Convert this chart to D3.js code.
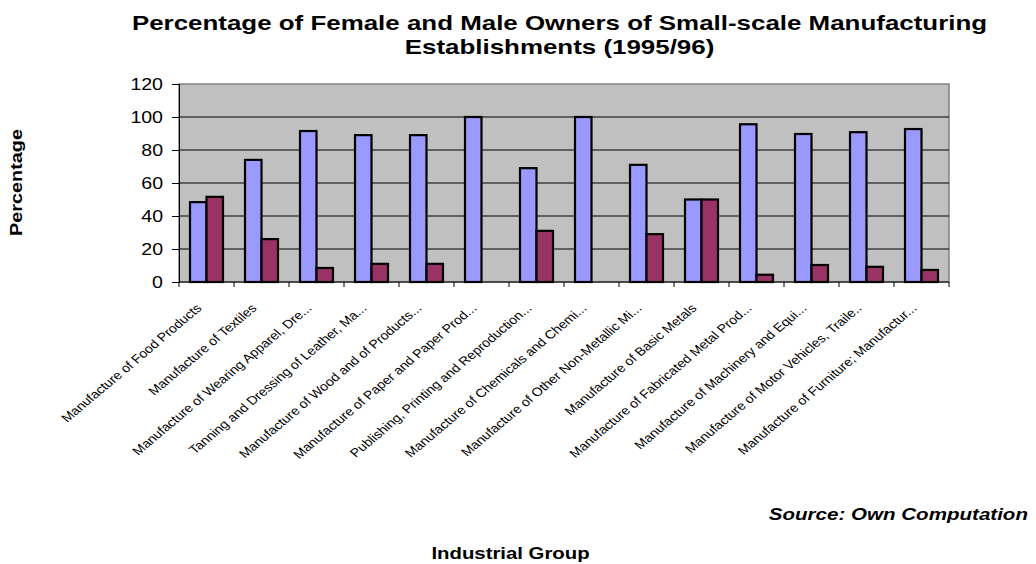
<!DOCTYPE html>
<html>
<head>
<meta charset="utf-8">
<script src="https://cdn.jsdelivr.net/npm/d3@7"></script>
<style>
  html, body { margin: 0; padding: 0; background: #fff; }
  svg { display: block; font-family: "Liberation Sans", Arial, sans-serif; }
</style>
</head>
<body>
<svg id="chart" width="1036" height="564"></svg>
<script>
// Industrial groups (labels as displayed, truncated)
const categories = [
  "Manufacture of Food Products",
  "Manufacture of Textiles",
  "Manufacture of Wearing Apparel, Dre...",
  "Tanning and Dressing of Leather, Ma...",
  "Manufacture of Wood and of Products...",
  "Manufacture of Paper and Paper Prod...",
  "Publishing, Printing and Reproduction...",
  "Manufacture of Chemicals and Chemi...",
  "Manufacture of Other Non-Metallic Mi...",
  "Manufacture of Basic Metals",
  "Manufacture of Fabricated Metal Prod...",
  "Manufacture of Machinery and Equi...",
  "Manufacture of Motor Vehicles, Traile..",
  "Manufacture of Furniture; Manufactur..."
];
// Share of owners (%) by sex
const female = [48.4, 74, 91.5, 89, 89, 100, 69, 100, 71, 50, 95.6, 89.7, 90.8, 92.7];
const male   = [51.6, 26, 8.5, 11, 11, 0, 31, 0, 29, 50, 4.4, 10.3, 9.2, 7.3];
const yTicks = [0, 20, 40, 60, 80, 100, 120];
const seriesNames = ["Female", "Male"];
const seriesColors = ["#9999FF", "#993366"];

const svg = d3.select("#chart");
const plot = { left: 179, top: 84, right: 949, bottom: 282 };
const SX = 1.21; // horizontal text widening used throughout the chart

const x = d3.scaleBand().domain(categories).range([plot.left, plot.right]).paddingInner(0).paddingOuter(0);
const inner = d3.scaleBand().domain(seriesNames).range([0, x.bandwidth()]).paddingInner(0).paddingOuter(0.667);
const y = d3.scaleLinear().domain([0, 120]).range([plot.bottom, plot.top]);

// Plot background
svg.append("rect")
  .attr("x", plot.left).attr("y", plot.top)
  .attr("width", plot.right - plot.left).attr("height", plot.bottom - plot.top)
  .attr("fill", "#C0C0C0").attr("stroke", "#808080").attr("stroke-width", 1.5);

// Gridlines
svg.append("g").selectAll("line")
  .data(yTicks.filter(t => t > 0 && t < 120))
  .join("line")
  .attr("x1", plot.left).attr("x2", plot.right)
  .attr("y1", d => y(d)).attr("y2", d => y(d))
  .attr("stroke", "#000").attr("stroke-width", 1);

// Bars
const data = categories.map((c, i) => ({ c, vals: [female[i], male[i]] }));
const groups = svg.append("g").selectAll("g")
  .data(data).join("g")
  .attr("transform", d => `translate(${x(d.c)},0)`);
groups.selectAll("rect")
  .data(d => d.vals.map((v, k) => ({ v, k })).filter(e => e.v > 0))
  .join("rect")
  .attr("x", d => inner(seriesNames[d.k]))
  .attr("width", inner.bandwidth())
  .attr("y", d => y(d.v))
  .attr("height", d => y(0) - y(d.v))
  .attr("fill", d => seriesColors[d.k])
  .attr("stroke", "#000").attr("stroke-width", 2.2);

// Y axis
const yAxis = d3.axisLeft(y).tickValues(yTicks).tickSize(7).tickFormat("");
const yg = svg.append("g").attr("transform", `translate(${plot.left},0)`).call(yAxis);
yg.select(".domain").attr("stroke", "#000").attr("stroke-width", 1);
yg.selectAll(".tick line").attr("stroke", "#000");
svg.append("g").selectAll("text").data(yTicks).join("text")
  .attr("transform", d => `translate(163,${y(d)}) scale(${SX * 0.98},1)`)
  .attr("dy", "0.36em")
  .attr("text-anchor", "end")
  .attr("font-size", 16.5)
  .attr("fill", "#000")
  .text(d => d);

// X axis: boundary ticks between categories
const xg = svg.append("g");
xg.append("line").attr("x1", plot.left).attr("x2", plot.right)
  .attr("y1", plot.bottom).attr("y2", plot.bottom).attr("stroke", "#000");
const bounds = categories.map(c => x(c)).concat([plot.right]);
xg.selectAll("line.tk").data(bounds).join("line").attr("class", "tk")
  .attr("x1", d => d).attr("x2", d => d)
  .attr("y1", plot.bottom).attr("y2", plot.bottom + 5)
  .attr("stroke", "#000");

// Category labels, rotated
xg.selectAll("text").data(categories).join("text")
  .attr("transform", d => `translate(${x(d) + x.bandwidth() / 2 - 4},${plot.bottom + 27}) scale(${SX * 0.98},1) rotate(-45)`)
  .attr("text-anchor", "end")
  .attr("font-size", 12)
  .attr("fill", "#000")
  .text(d => d);

// Title
const title = svg.append("text").attr("text-anchor", "middle")
  .attr("transform", `translate(559.5,0) scale(${SX * 1.02},1)`)
  .attr("font-size", 21).attr("font-weight", "bold").attr("fill", "#000");
title.append("tspan").attr("x", 0).attr("y", 30)
  .text("Percentage of Female and Male Owners of Small-scale Manufacturing");
title.append("tspan").attr("x", 0).attr("y", 54)
  .text("Establishments (1995/96)");

// Axis titles
svg.append("text")
  .attr("transform", "translate(21.5,182.5) rotate(-90) scale(1.24,1)")
  .attr("text-anchor", "middle").attr("font-size", 16).attr("font-weight", "bold")
  .text("Percentage");
svg.append("text")
  .attr("transform", `translate(510.5,559) scale(${SX * 1.02},1)`)
  .attr("text-anchor", "middle").attr("font-size", 16.5).attr("font-weight", "bold")
  .text("Industrial Group");

// Source note
svg.append("text")
  .attr("transform", `translate(1028,519.5) scale(${SX},1)`)
  .attr("text-anchor", "end").attr("font-size", 17).attr("font-weight", "bold")
  .attr("font-style", "italic")
  .text("Source: Own Computation");
</script>
</body>
</html>
